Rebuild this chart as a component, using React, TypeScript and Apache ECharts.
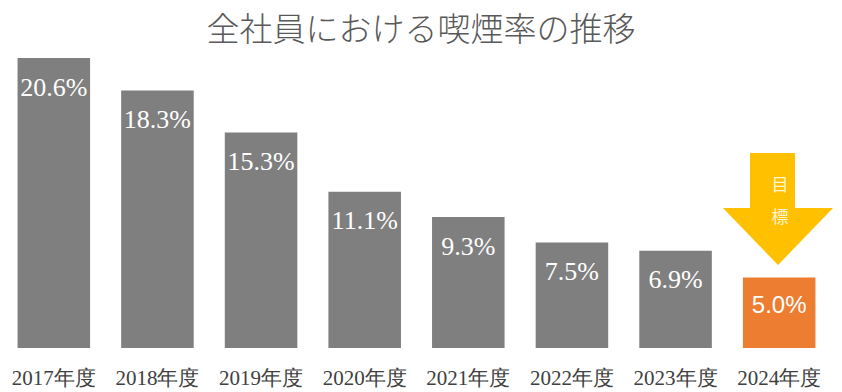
import React, { useEffect, useRef } from "react";
import * as echarts from "echarts";

const categories = ["2017年度", "2018年度", "2019年度", "2020年度", "2021年度", "2022年度", "2023年度", "2024年度"];
const rates = [20.6, 18.3, 15.3, 11.1, 9.3, 7.5, 6.9, 5.0];
const targetIndex = 7;
const titleText = "全社員における喫煙率の推移";
const arrowText = ["目", "標"];

export default function App() {
  const ref = useRef<HTMLDivElement>(null);
  useEffect(() => {
    if (!ref.current) return;
    const chart = echarts.init(ref.current, null, { renderer: "svg" });
    const data = rates.map((v, i) => {
      const isTarget = i === targetIndex;
      return {
        value: v,
        itemStyle: { color: isTarget ? "#ED7D31" : "#7F7F7F" },
        label: isTarget
          ? { fontFamily: "Liberation Sans, Arial, sans-serif", fontSize: 24, distance: 15 }
          : undefined,
      };
    });
    chart.setOption({
      animation: false,
      title: {
        text: titleText,
        left: "center",
        top: 5,
        textStyle: {
          fontFamily: "Noto Sans CJK JP, sans-serif",
          fontWeight: 300,
          fontSize: 33,
          color: "#595959",
        },
      },
      grid: { left: 2, right: 11, top: 58, bottom: 44, containLabel: false },
      xAxis: {
        type: "category",
        data: categories,
        axisLine: { show: false },
        axisTick: { show: false },
        axisLabel: {
          color: "#404040",
          fontFamily: "Liberation Serif, Times New Roman, serif",
          fontSize: 21,
          margin: 19,
          interval: 0,
        },
      },
      yAxis: {
        type: "value",
        min: 0,
        max: 20.6,
        show: false,
        splitLine: { show: false },
      },
      series: [
        {
          type: "bar",
          data,
          barCategoryGap: "30%",
          label: {
            show: true,
            position: "insideTop",
            distance: 16,
            color: "#FFFFFF",
            fontFamily: "Liberation Serif, Times New Roman, serif",
            fontSize: 26,
            formatter: (p: any) => p.value.toFixed(1) + "%",
          },
        },
      ],
      graphic: [
        {
          type: "polygon",
          shape: {
            points: [
              [750, 153],
              [795, 153],
              [795, 208],
              [833, 208],
              [778, 265],
              [723, 208],
              [750, 208],
            ],
          },
          style: { fill: "#FFC000" },
        },
        {
          type: "text",
          x: 780,
          y: 183,
          style: {
            text: arrowText[0],
            fill: "rgba(255,255,255,0.85)",
            font: "17px 'Noto Sans CJK JP', sans-serif",
            align: "center",
            verticalAlign: "middle",
          },
        },
        {
          type: "text",
          x: 780,
          y: 215,
          style: {
            text: arrowText[1],
            fill: "rgba(255,255,255,0.85)",
            font: "17px 'Noto Sans CJK JP', sans-serif",
            align: "center",
            verticalAlign: "middle",
          },
        },
      ],
    });
    return () => chart.dispose();
  }, []);
  return <div ref={ref} style={{ width: 842, height: 392, position: "absolute", left: 0, top: 0 }} />;
}
